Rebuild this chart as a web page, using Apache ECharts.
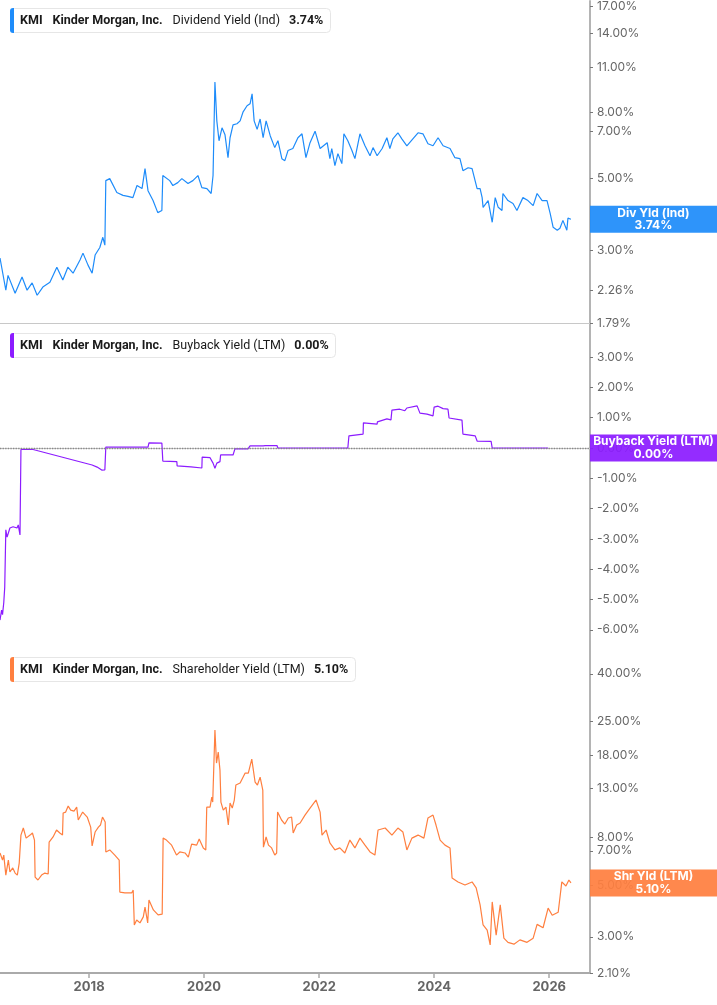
<!DOCTYPE html>
<html>
<head>
<meta charset="utf-8">
<script src="https://cdn.jsdelivr.net/npm/echarts@6/dist/echarts.min.js"></script>
<style>
  html, body { margin: 0; padding: 0; background: #fff; }
  #chart { width: 717px; height: 1005px; }
</style>
</head>
<body>
<div id="chart"></div>
<script>
// 股息率 (Ind)
const divYield = [
  ['2016-06-14',2.84],['2016-07-21',2.26],['2016-08-04',2.51],['2016-09-18',2.21],['2016-11-01',2.48],
  ['2016-12-03',2.26],['2017-01-04',2.38],['2017-02-05',2.18],['2017-03-13',2.31],['2017-04-27',2.39],
  ['2017-06-10',2.66],['2017-07-18',2.43],['2017-08-19',2.66],['2017-09-21',2.55],['2017-11-04',2.80],
  ['2017-11-23',2.94],['2017-12-25',2.70],['2018-01-20',2.55],['2018-02-08',2.90],['2018-03-10',3.06],
  ['2018-03-29',3.29],['2018-04-11',3.11],['2018-04-17',4.92],['2018-05-12',4.99],['2018-06-26',4.52],
  ['2018-08-04',4.43],['2018-09-05',4.40],['2018-10-06',4.36],['2018-11-01',4.75],['2018-12-03',4.65],
  ['2018-12-22',5.36],['2019-01-10',4.58],['2019-02-11',4.27],['2019-03-13',3.92],['2019-04-08',3.98],
  ['2019-04-14',5.10],['2019-05-28',4.92],['2019-06-17',4.75],['2019-07-18',4.85],['2019-08-13',4.99],
  ['2019-09-21',4.82],['2019-10-22',4.92],['2019-11-23',5.10],['2019-12-18',4.68],['2020-01-19',4.65],
  ['2020-02-15',4.49],['2020-02-27',5.10],['2020-03-10',9.91],['2020-03-22',7.52],['2020-04-05',6.53],
  ['2020-04-24',7.16],['2020-05-13',6.81],['2020-06-01',5.79],['2020-06-14',6.67],['2020-07-03',7.31],
  ['2020-07-28',7.37],['2020-08-17',7.52],['2020-09-05',8.02],['2020-09-30',8.37],['2020-10-19',8.49],
  ['2020-11-01',9.11],['2020-11-14',7.52],['2020-12-03',7.08],['2020-12-22',7.62],['2021-01-10',6.67],
  ['2021-01-29',7.52],['2021-02-24',6.77],['2021-03-25',6.22],['2021-04-14',6.53],['2021-05-09',5.75],
  ['2021-05-28',5.67],['2021-06-17',6.09],['2021-07-18',6.18],['2021-08-19',6.67],['2021-09-14',6.86],
  ['2021-10-09',5.79],['2021-11-04',6.44],['2021-12-06',6.99],['2022-01-07',6.18],['2022-02-21',6.44],
  ['2022-03-10',5.75],['2022-03-22',6.18],['2022-04-11',5.47],['2022-04-30',5.96],['2022-05-25',5.55],
  ['2022-06-07',6.86],['2022-07-02',6.53],['2022-07-28',6.09],['2022-08-16',5.75],['2022-09-17',6.86],
  ['2022-10-19',6.30],['2022-11-20',5.87],['2022-12-09',6.22],['2023-01-04',5.87],['2023-02-05',6.18],
  ['2023-03-07',6.67],['2023-03-26',6.18],['2023-04-14',6.62],['2023-05-16',6.91],['2023-06-10',6.62],
  ['2023-07-12',6.30],['2023-08-19',6.62],['2023-09-21',6.91],['2023-10-22',6.86],['2023-11-23',6.39],
  ['2023-12-25',6.30],['2024-01-26',6.67],['2024-02-27',6.30],['2024-04-11',6.18],['2024-05-12',5.79],
  ['2024-06-13',5.75],['2024-07-02',5.28],['2024-08-04',5.39],['2024-08-29',5.36],['2024-09-30',4.65],
  ['2024-10-19',4.65],['2024-11-01',4.36],['2024-11-07',4.07],['2024-12-09',4.27],['2025-01-04',3.66],
  ['2025-01-23',4.36],['2025-02-11',4.07],['2025-03-07',3.98],['2025-03-13',4.49],['2025-04-14',4.27],
  ['2025-05-16',4.18],['2025-06-10',3.98],['2025-07-18',4.36],['2025-08-19',4.27],['2025-09-21',4.12],
  ['2025-10-16',4.49],['2025-11-17',4.27],['2025-12-18',4.27],['2026-01-07',3.90],['2026-01-26',3.53],
  ['2026-02-21',3.46],['2026-03-10',3.51],['2026-03-29',3.71],['2026-04-23',3.46],['2026-04-30',3.77],
  ['2026-05-19',3.74]
]

// 回购收益率 (LTM)
const buybackYield = [
  ['2016-06-14',-5.68],['2016-06-24',-5.35],['2016-06-30',-5.50],['2016-07-08',-5.10],['2016-07-14',-4.60],
  ['2016-07-21',-2.70],['2016-07-29',-2.94],['2016-08-16',-2.64],['2016-09-05',-2.60],['2016-09-30',-2.64],
  ['2016-10-08',-2.54],['2016-10-19',-2.87],['2016-10-25',-0.05],['2017-01-10',-0.05],['2018-01-20',-0.56],
  ['2018-02-21',-0.63],['2018-03-22',-0.73],['2018-04-11',-0.72],['2018-04-17',0.03],['2019-01-10',0.03],
  ['2019-01-16',0.17],['2019-04-08',0.16],['2019-04-14',-0.43],['2019-07-12',-0.45],['2019-07-14',-0.59],
  ['2019-10-10',-0.62],['2019-10-16',-0.67],['2019-12-18',-0.66],['2019-12-20',-0.30],['2020-02-08',-0.32],
  ['2020-02-27',-0.50],['2020-03-10',-0.67],['2020-03-22',-0.50],['2020-04-11',-0.45],['2020-04-15',-0.23],
  ['2020-07-03',-0.23],['2020-07-15',-0.03],['2020-10-06',-0.03],['2020-10-19',0.07],['2021-01-10',0.07],
  ['2021-01-23',0.08],['2021-04-08',0.08],['2021-04-14',0.00],['2022-07-02',0.00],['2022-07-09',0.40],
  ['2022-10-07',0.46],['2022-10-09',0.83],['2023-01-04',0.79],['2023-01-06',0.86],['2023-03-07',0.96],
  ['2023-04-02',0.93],['2023-04-08',1.25],['2023-05-28',1.28],['2023-06-29',1.23],['2023-07-12',1.32],
  ['2023-09-15',1.39],['2023-09-21',1.40],['2023-10-03',1.15],['2023-11-17',1.12],['2023-12-25',1.06],
  ['2024-01-01',1.35],['2024-01-26',1.38],['2024-02-27',1.30],['2024-03-29',1.28],['2024-04-05',0.99],
  ['2024-06-26',0.92],['2024-07-02',0.46],['2024-09-18',0.40],['2024-09-30',0.23],['2024-12-28',0.22],
  ['2025-01-04',0.00],['2025-12-25',0.00]
]

// 股东收益率 (LTM)
const shareholderYield = [
  ['2016-06-14',6.85],['2016-06-30',6.39],['2016-07-08',6.71],['2016-07-21',5.51],['2016-08-06',6.39],
  ['2016-08-16',5.68],['2016-09-03',5.91],['2016-09-18',5.62],['2016-10-02',5.51],['2016-10-14',6.20],
  ['2016-10-25',8.17],['2016-11-09',8.76],['2016-11-27',7.93],['2016-12-22',8.17],['2017-01-06',8.34],
  ['2017-01-19',7.78],['2017-01-23',5.40],['2017-02-10',5.25],['2017-03-05',5.51],['2017-03-26',5.62],
  ['2017-04-16',5.57],['2017-04-22',7.63],['2017-05-17',8.02],['2017-06-08',8.59],['2017-06-29',8.34],
  ['2017-07-16',8.17],['2017-07-20',10.15],['2017-08-05',10.25],['2017-08-21',10.87],['2017-09-06',10.45],
  ['2017-09-27',10.35],['2017-10-14',10.76],['2017-10-24',9.48],['2017-11-21',10.25],['2017-12-20',9.76],
  ['2018-01-11',8.84],['2018-01-20',7.34],['2018-02-08',8.42],['2018-03-01',8.84],['2018-03-14',9.02],
  ['2018-03-27',9.76],['2018-04-13',9.29],['2018-04-17',6.92],['2018-05-12',7.06],['2018-06-13',6.71],
  ['2018-07-11',6.39],['2018-07-15',4.66],['2018-08-16',4.62],['2018-09-28',4.62],['2018-10-08',4.75],
  ['2018-10-15',3.37],['2018-10-30',3.54],['2018-11-20',3.44],['2018-12-11',3.65],['2018-12-22',4.02],
  ['2019-01-08',3.44],['2019-01-16',4.31],['2019-02-13',3.91],['2019-03-15',3.72],['2019-04-10',3.75],
  ['2019-04-16',7.93],['2019-05-07',7.78],['2019-06-09',7.40],['2019-07-10',6.71],['2019-07-31',6.92],
  ['2019-09-02',6.85],['2019-09-23',6.58],['2019-10-14',7.48],['2019-11-15',7.40],['2019-12-01',7.86],
  ['2019-12-27',7.20],['2020-01-12',7.06],['2020-01-18',10.76],['2020-02-08',10.76],['2020-02-19',11.89],
  ['2020-02-25',11.31],['2020-03-10',22.99],['2020-03-20',16.61],['2020-03-31',18.51],['2020-04-11',15.50],
  ['2020-04-17',11.31],['2020-05-02',10.45],['2020-05-19',10.76],['2020-06-03',9.02],['2020-06-14',11.20],
  ['2020-06-28',10.66],['2020-07-11',11.54],['2020-07-21',13.38],['2020-08-17',13.64],['2020-09-18',15.05],
  ['2020-10-08',15.05],['2020-10-30',17.27],['2020-11-20',13.78],['2020-12-05',13.38],['2020-12-22',14.46],
  ['2021-01-08',12.73],['2021-01-12',7.25],['2021-01-29',8.02],['2021-02-13',7.40],['2021-03-05',7.20],
  ['2021-03-25',6.71],['2021-04-06',6.85],['2021-04-12',10.25],['2021-05-07',9.48],['2021-05-28',9.11],
  ['2021-06-19',9.67],['2021-07-10',9.76],['2021-07-20',8.34],['2021-08-11',9.02],['2021-09-02',9.20],
  ['2021-10-03',9.95],['2021-11-04',10.66],['2021-12-12',11.54],['2022-01-07',10.25],['2022-01-19',8.17],
  ['2022-02-14',8.59],['2022-03-10',7.56],['2022-04-11',7.06],['2022-05-12',7.20],['2022-06-13',6.85],
  ['2022-07-15',7.78],['2022-08-16',7.20],['2022-09-17',7.93],['2022-10-19',7.40],['2022-11-20',6.92],
  ['2022-12-21',6.71],['2023-01-10',8.59],['2023-02-24',8.76],['2023-04-08',8.17],['2023-05-16',8.76],
  ['2023-06-17',8.42],['2023-07-12',7.06],['2023-08-13',7.93],['2023-09-21',8.17],['2023-10-28',7.93],
  ['2023-11-23',9.67],['2023-12-25',9.95],['2024-01-13',9.02],['2024-02-08',7.78],['2024-03-10',7.40],
  ['2024-04-11',7.20],['2024-04-24',5.35],['2024-06-01',5.15],['2024-07-15',5.00],['2024-08-29',5.15],
  ['2024-09-24',4.86],['2024-10-19',4.11],['2024-11-07',3.37],['2024-12-03',3.20],['2024-12-22',2.77],
  ['2025-01-04',4.23],['2025-01-29',3.05],['2025-02-24',4.11],['2025-03-19',2.96],['2025-04-14',2.84],
  ['2025-05-22',2.79],['2025-06-29',2.91],['2025-08-13',2.84],['2025-09-21',2.96],['2025-10-16',3.39],
  ['2025-11-23',3.28],['2025-12-25',3.98],['2026-01-20',3.71],['2026-02-27',3.82],['2026-03-22',5.15],
  ['2026-04-17',4.95],['2026-05-06',5.25],['2026-05-19',5.10]
]

// 刻度
const yearTicks = ['2018-01-01', '2020-01-01', '2022-01-01', '2024-01-01', '2026-01-01']
const divTicks = [1.79, 2.26, 3, 5, 7, 8, 11, 14, 17]
const buybackTicks = [-6, -5, -4, -3, -2, -1, 0, 1, 2, 3]
const shareholderTicks = [2.1, 3, 5, 7, 8, 13, 18, 25, 40]

// 最新值
const lastDiv = 3.74
const lastBuyback = 0.00
const lastShareholder = 5.10

const FONT = 'Inter'
const TITLE_FONT = 'Roboto'
const COLORS = { div: '#1e8cfa', buyback: '#8c1cff', shr: '#ff7f3f' }

const xMin = '2016-06-14'
const xMax = '2026-09-17'

const pct = v => Number(v).toFixed(2) + '%'

const makeTitle = (top, color, metric, value) => ({
  left: 10,
  top: top,
  text: '{bar|}{kmi|KMI}{name|Kinder Morgan, Inc.}{metric|' + metric + '}{val|' + value + '}',
  backgroundColor: '#fff',
  borderColor: '#e6e6e6',
  borderWidth: 1,
  borderRadius: 4,
  padding: [0, 7, 0, 0],
  textStyle: {
    rich: {
      bar: { width: 4, height: 25, backgroundColor: color, borderRadius: [3, 0, 0, 3] },
      kmi: { fontFamily: TITLE_FONT, fontSize: 12.5, fontWeight: 'bold', color: '#1a1a1a', padding: [0, 0, 0, 6] },
      name: { fontFamily: TITLE_FONT, fontSize: 12.5, fontWeight: 'bold', color: '#1a1a1a', padding: [0, 0, 0, 10] },
      metric: { fontFamily: TITLE_FONT, fontSize: 12.5, fontWeight: 'normal', color: '#1a1a1a', padding: [0, 0, 0, 10] },
      val: { fontFamily: TITLE_FONT, fontSize: 12.5, fontWeight: 'bold', color: '#1a1a1a', padding: [0, 0, 0, 9] }
    }
  }
})

// 数据用时间轴(只画轴线)
const makeTimeAxis = (gridIndex, bottom) => ({
  type: 'time',
  gridIndex,
  min: xMin,
  max: xMax,
  axisLine: { show: true, lineStyle: { color: bottom ? '#aaa' : '#c8c8c8', width: bottom ? 2 : 1 } },
  axisTick: { show: false },
  axisLabel: { show: false },
  splitLine: { show: false }
})

// 年份标签轴(毫秒数值轴)
const yearAxis = {
  type: 'value',
  gridIndex: 2,
  position: 'bottom',
  min: Date.parse(xMin),
  max: Date.parse(xMax),
  axisLine: { show: false },
  axisTick: { show: true, length: 5, lineStyle: { color: '#aaa', width: 1.5 }, customValues: yearTicks.map(d => Date.parse(d)) },
  axisLabel: {
    customValues: yearTicks.map(d => Date.parse(d)),
    formatter: v => String(new Date(v).getUTCFullYear()),
    color: '#666',
    fontFamily: FONT,
    fontWeight: 'bold',
    fontSize: 13,
    margin: 8
  },
  splitLine: { show: false }
}

const makeYAxis = (gridIndex, type, min, max, ticks) => ({
  type,
  gridIndex,
  position: 'right',
  min,
  max,
  logBase: 10,
  axisLine: { show: true, lineStyle: { color: '#b4b4b4', width: 2 } },
  axisTick: { show: true, length: 3, lineStyle: { color: '#777' }, customValues: ticks },
  axisLabel: {
    customValues: ticks,
    formatter: pct,
    color: '#666',
    fontFamily: FONT,
    fontSize: 12,
    margin: 7
  },
  splitLine: { show: false }
})

const endLabel = (title, value, bg) => ({
  show: true,
  position: 'end',
  distance: 0,
  formatter: '{t|' + title + '}\n{t|' + pct(value) + '}',
  backgroundColor: bg,
  padding: [1, 0, 1, 0],
  rich: {
    t: { width: 127, align: 'center', color: '#fff', fontFamily: FONT, fontWeight: 'bold', fontSize: 12, lineHeight: 12.5 }
  }
})

const hiddenLine = { color: 'rgba(0,0,0,0)', width: 0 }

const option = {
  animation: false,
  backgroundColor: '#fff',
  title: [
    makeTitle(8, COLORS.div, 'Dividend Yield (Ind)', pct(lastDiv)),
    makeTitle(333, COLORS.buyback, 'Buyback Yield (LTM)', pct(lastBuyback)),
    makeTitle(657, COLORS.shr, 'Shareholder Yield (LTM)', pct(lastShareholder))
  ],
  grid: [
    { left: 0, right: 127, top: 0, height: 323 },
    { left: 0, right: 127, top: 323, height: 325 },
    { left: 0, right: 127, top: 648, height: 325 }
  ],
  xAxis: [makeTimeAxis(0, false), makeTimeAxis(1, false), makeTimeAxis(2, true), yearAxis],
  yAxis: [
    makeYAxis(0, 'log', 1.79, 17.6, divTicks),
    makeYAxis(1, 'value', -6.6, 4.125, buybackTicks),
    makeYAxis(2, 'log', 2.1, 51.6, shareholderTicks)
  ],
  series: [
    {
      name: 'Dividend Yield (Ind)',
      type: 'line',
      xAxisIndex: 0,
      yAxisIndex: 0,
      data: divYield,
      showSymbol: false,
      lineStyle: { color: COLORS.div, width: 1.2 },
      markLine: {
        silent: true,
        symbol: 'none',
        lineStyle: hiddenLine,
        data: [{ yAxis: lastDiv }],
        label: endLabel('Div Yld (Ind)', lastDiv, 'rgba(30,140,250,0.93)')
      }
    },
    {
      name: 'Buyback Yield (LTM)',
      type: 'line',
      xAxisIndex: 1,
      yAxisIndex: 1,
      data: buybackYield,
      showSymbol: false,
      lineStyle: { color: COLORS.buyback, width: 1.2 },
      markLine: {
        silent: true,
        symbol: 'none',
        lineStyle: { type: 'dotted', color: '#888', width: 1.3 },
        data: [{ yAxis: lastBuyback }],
        label: endLabel('Buyback Yield (LTM)', lastBuyback, 'rgba(140,28,255,0.93)')
      }
    },
    {
      name: 'Shareholder Yield (LTM)',
      type: 'line',
      xAxisIndex: 2,
      yAxisIndex: 2,
      data: shareholderYield,
      showSymbol: false,
      lineStyle: { color: COLORS.shr, width: 1.2 },
      markLine: {
        silent: true,
        symbol: 'none',
        lineStyle: hiddenLine,
        data: [{ yAxis: lastShareholder }],
        label: endLabel('Shr Yld (LTM)', lastShareholder, 'rgba(255,127,63,0.93)')
      }
    }
  ]
}

const chart = echarts.init(document.getElementById('chart'))
chart.setOption(option)
</script>
</body>
</html>
